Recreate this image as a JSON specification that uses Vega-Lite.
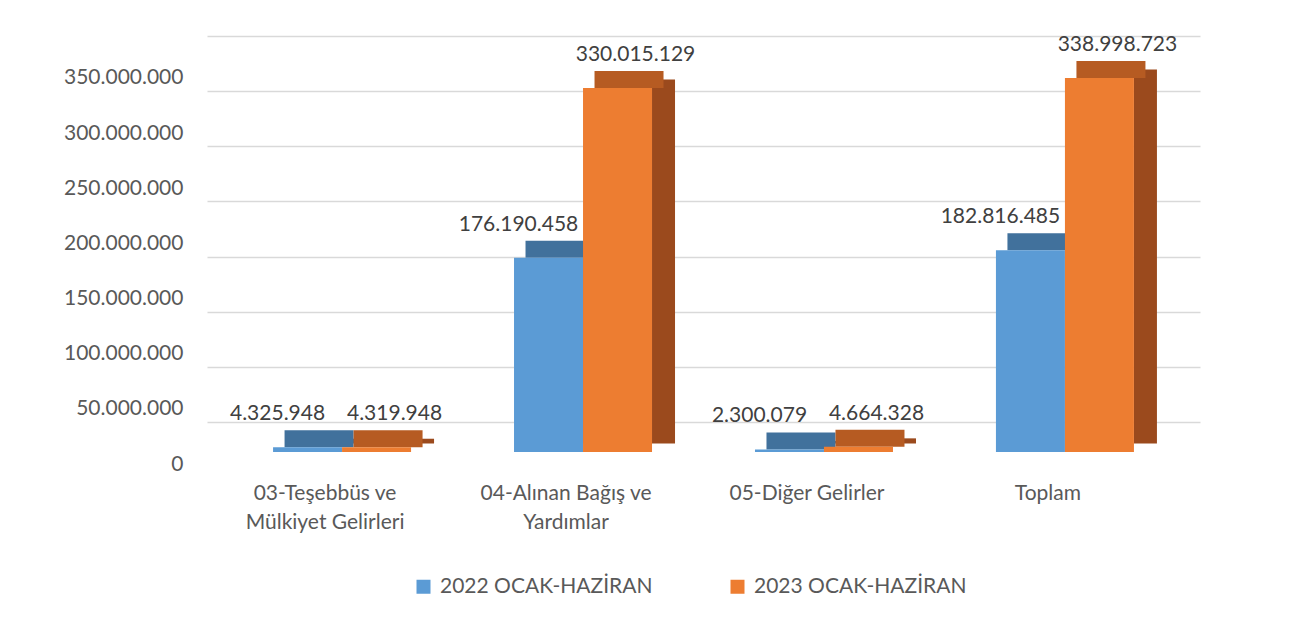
{
  "$schema": "https://vega.github.io/schema/vega-lite/v6.json",
  "width": 993,
  "height": 422,
  "autosize": {"type": "none"},
  "padding": {"left": 207, "top": 30, "right": 98, "bottom": 171},
  "background": "white",
  "config": {
    "view": {"stroke": null},
    "font": "Lato",
    "locale": {"number": {"decimal": ",", "thousands": ".", "grouping": [3], "currency": ["₺", ""]}},
    "legend": {"padding": 0}
  },
  "data": {
    "values": [
      {"kategori": "03-Teşebbüs ve\nMülkiyet Gelirleri", "yil": "2022 OCAK-HAZİRAN", "deger": 4325948},
      {"kategori": "03-Teşebbüs ve\nMülkiyet Gelirleri", "yil": "2023 OCAK-HAZİRAN", "deger": 4319948},
      {"kategori": "04-Alınan Bağış ve\nYardımlar", "yil": "2022 OCAK-HAZİRAN", "deger": 176190458},
      {"kategori": "04-Alınan Bağış ve\nYardımlar", "yil": "2023 OCAK-HAZİRAN", "deger": 330015129},
      {"kategori": "05-Diğer Gelirler", "yil": "2022 OCAK-HAZİRAN", "deger": 2300079},
      {"kategori": "05-Diğer Gelirler", "yil": "2023 OCAK-HAZİRAN", "deger": 4664328},
      {"kategori": "Toplam", "yil": "2022 OCAK-HAZİRAN", "deger": 182816485},
      {"kategori": "Toplam", "yil": "2023 OCAK-HAZİRAN", "deger": 338998723}
    ]
  },
  "encoding": {
    "x": {
      "field": "kategori",
      "type": "nominal",
      "sort": null,
      "scale": {"paddingInner": 0.427, "paddingOuter": 0.274},
      "axis": {
        "title": null,
        "domain": false,
        "ticks": false,
        "labelAngle": 0,
        "labelFontSize": 21,
        "labelColor": "#595959",
        "labelPadding": 30,
        "labelLineHeight": 29,
        "labelOffset": -17,
        "labelLimit": 300,
        "labelExpr": "split(datum.label, '\\n')"
      }
    }
  },
  "layer": [
    {
      "mark": {"type": "point", "opacity": 0},
      "encoding": {
        "y": {
          "field": "deger",
          "type": "quantitative",
          "scale": {"domain": [-27200000, 355400000], "nice": false, "zero": false},
          "axis": {
            "orient": "right",
            "title": null,
            "labels": false,
            "ticks": false,
            "domain": false,
            "grid": true,
            "gridColor": "#d9d9d9",
            "gridWidth": 1.5,
            "values": [0, 50000000, 100000000, 150000000, 200000000, 250000000, 300000000, 350000000]
          }
        }
      }
    },
    {
      "encoding": {
        "y": {
          "field": "deger",
          "type": "quantitative",
          "scale": {"domain": [0, 382600000], "nice": false, "zero": true},
          "axis": {
            "orient": "left",
            "title": null,
            "grid": false,
            "domain": false,
            "ticks": false,
            "format": ",d",
            "labelFontSize": 21,
            "labelColor": "#595959",
            "labelPadding": 24,
            "labelOffset": 12,
            "values": [0, 50000000, 100000000, 150000000, 200000000, 250000000, 300000000, 350000000]
          }
        }
      },
      "layer": [
        {
          "transform": [{"filter": "datum.yil === '2022 OCAK-HAZİRAN'"}],
          "mark": {"type": "bar", "width": 23, "xOffset": 11.5, "yOffset": -8.5, "color": "#3A6690"},
          "encoding": {}
        },
        {
          "transform": [{"filter": "datum.yil === '2022 OCAK-HAZİRAN'"}],
          "mark": {"type": "tick", "size": 69, "thickness": 17, "xOffset": -23, "yOffset": -8.5, "color": "#41719C", "opacity": 1},
          "encoding": {}
        },
        {
          "transform": [{"filter": "datum.yil === '2023 OCAK-HAZİRAN'"}],
          "mark": {"type": "bar", "width": 23, "xOffset": 80.5, "yOffset": -8.5, "color": "#9B4A1D"},
          "encoding": {}
        },
        {
          "transform": [{"filter": "datum.yil === '2023 OCAK-HAZİRAN'"}],
          "mark": {"type": "tick", "size": 69, "thickness": 17, "xOffset": 46, "yOffset": -8.5, "color": "#B65B22", "opacity": 1},
          "encoding": {}
        },
        {
          "transform": [{"filter": "datum.yil === '2022 OCAK-HAZİRAN'"}],
          "mark": {"type": "bar", "width": 69, "xOffset": -34.5},
          "encoding": {
            "color": {
              "field": "yil",
              "type": "nominal",
              "scale": {"domain": ["2022 OCAK-HAZİRAN", "2023 OCAK-HAZİRAN"], "range": ["#5B9BD5", "#ED7D31"]},
              "legend": {
                "title": null,
                "orient": "none",
                "direction": "horizontal",
                "legendX": 206,
                "legendY": 546,
                "symbolType": "square",
                "symbolSize": 196,
                "symbolStrokeWidth": 0,
                "labelFontSize": 21,
                "labelColor": "#595959",
                "labelOffset": 6,
                "labelLimit": 400,
                "columnPadding": 74
              }
            }
          }
        },
        {
          "transform": [{"filter": "datum.yil === '2023 OCAK-HAZİRAN'"}],
          "mark": {"type": "bar", "width": 69, "xOffset": 34.5},
          "encoding": {
            "color": {"field": "yil", "type": "nominal"}
          }
        },
        {
          "transform": [{"filter": "datum.yil === '2022 OCAK-HAZİRAN'"}],
          "mark": {"type": "text", "dx": -64.5, "dy": -33, "fontSize": 21, "color": "#404040", "align": "center", "baseline": "middle"},
          "encoding": {"text": {"field": "deger", "type": "quantitative", "format": ",d"}}
        },
        {
          "transform": [{"filter": "datum.yil === '2023 OCAK-HAZİRAN'"}],
          "mark": {"type": "text", "dx": 52.5, "dy": -33, "fontSize": 21, "color": "#404040", "align": "center", "baseline": "middle"},
          "encoding": {"text": {"field": "deger", "type": "quantitative", "format": ",d"}}
        }
      ]
    }
  ],
  "resolve": {"scale": {"y": "independent"}}
}
